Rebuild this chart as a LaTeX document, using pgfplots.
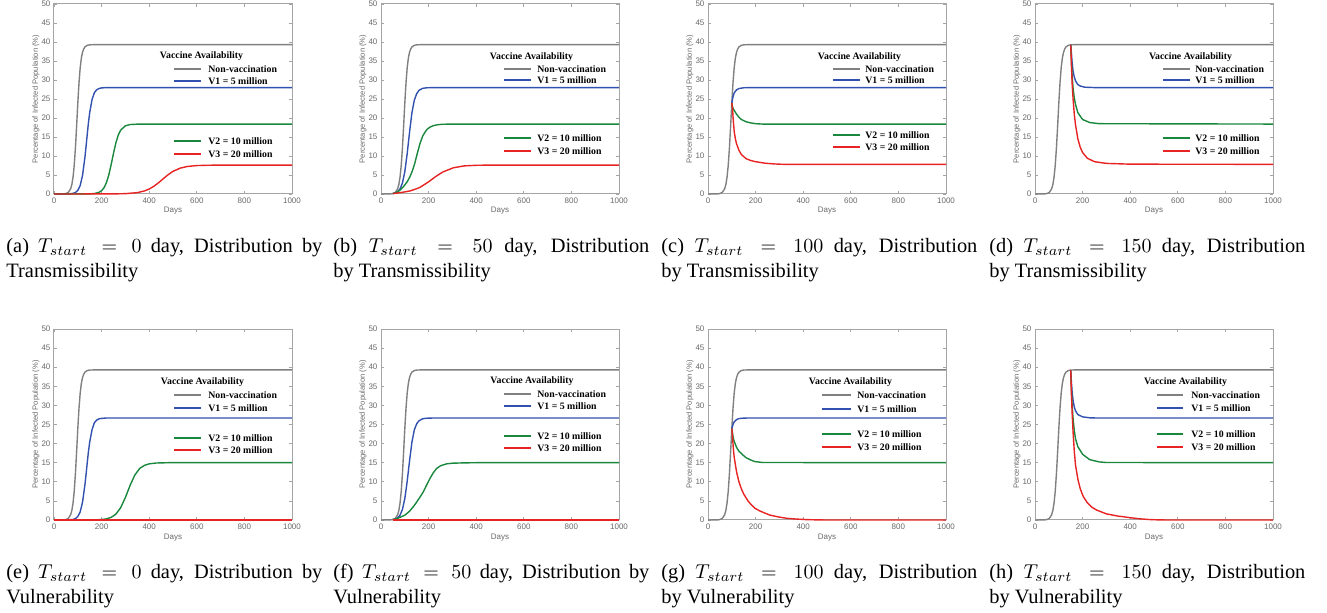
\documentclass[border=0pt]{standalone}
\usepackage{fontspec}
\setmainfont{Liberation Serif}
\setsansfont{Liberation Sans}
\usepackage{pgfplots}
\pgfplotsset{compat=1.18}
\usepackage{pgfplotstable}

\definecolor{cgray}{RGB}{128,128,128}
\definecolor{cblue}{RGB}{50,80,175}
\definecolor{cgreen}{RGB}{25,135,60}
\definecolor{cred}{RGB}{232,35,35}
\definecolor{axgray}{RGB}{165,165,165}
\definecolor{labgray}{RGB}{105,105,105}

\pgfplotstableread{
t y
0 0
40 0.034
50 0.117
60 0.41
70 1.38
75 2.50
80 4.44
85 7.53
90 12.1
95 17.8
100 23.9
105 29.2
110 33.2
115 35.8
120 37.3
125 38.2
130 38.7
140 39.13
150 39.25
170 39.3
1000 39.3
}\graytab

\pgfplotsset{
 panel/.style={
  scale only axis, width=119pt, height=95pt,
  xmin=0, xmax=1000, ymin=0, ymax=50,
  xtick={0,200,...,1000}, ytick={0,5,...,50},
  axis line style={draw=axgray, line width=0.5pt},
  tick style={draw=axgray, line width=0.35pt},
  major tick length=1.6pt,
  tick align=inside,
  /pgf/number format/assume math mode=true,
  /pgf/number format/1000 sep={},
  scaled ticks=false,
  ticklabel style={font=\fontsize{4}{4}\selectfont\sffamily, text=labgray, inner sep=1.6pt},
  xlabel={Days},
  ylabel={Percentage of Infected Population (\%)},
  xlabel style={font=\fontsize{4}{4}\selectfont\sffamily, text=labgray, at={(axis description cs:0.5,-0.0895)}, anchor=center},
  ylabel style={font=\fontsize{3.8}{4}\selectfont\sffamily, text=labgray, at={(axis description cs:-0.0756,0.5)}, anchor=center},
  clip=false,
  every axis plot/.append style={line width=0.7pt, no markers},
 },
 row2/.style={height=95.5pt},
}

\newcommand{\legfont}{\fontsize{4.9}{5}\selectfont\bfseries}
% #1 title cx, #2 title y, #3 line x1, #4 line x2, #5 text x, #6-#9 entry y
\newcommand{\vleg}[9]{%
 \node[font=\legfont,inner sep=0] at (#1,#2) {Vaccine Availability};
 \draw[cgray,line width=0.8pt] (#3,#6)--(#4,#6);
 \node[font=\legfont,anchor=west,inner sep=0] at (#5,#6) {Non-vaccination};
 \draw[cblue,line width=0.8pt] (#3,#7)--(#4,#7);
 \node[font=\legfont,anchor=west,inner sep=0] at (#5,#7) {V1 = 5 million};
 \draw[cgreen,line width=0.8pt] (#3,#8)--(#4,#8);
 \node[font=\legfont,anchor=west,inner sep=0] at (#5,#8) {V2 = 10 million};
 \draw[cred,line width=0.8pt] (#3,#9)--(#4,#9);
 \node[font=\legfont,anchor=west,inner sep=0] at (#5,#9) {V3 = 20 million};
}
\newcommand{\capfont}{\fontsize{10.2}{12}\selectfont}
% #1 x, #2 baseline, #3 line1, #4 line2
\newcommand{\capt}[4]{%
 \node[anchor=base west,inner sep=0,font=\capfont] at (#1,#2) {\makebox[158pt][s]{#3}};
 \node[anchor=base west,inner sep=0,font=\capfont] at (#1,#2+25) {#4};
}

\begin{document}
\begin{tikzpicture}
\useasboundingbox (0,0) rectangle (663.5pt,-306.5pt);

% (a)
\begin{axis}[panel, at={(27pt,-97pt)}, anchor=south west]
\addplot[cgray] table[x=t,y=y] {\graytab};
\addplot[cblue] coordinates {(0,0)(60,0.026)(80,0.16)(90,0.39)(100,0.94)(110,2.22)(120,4.92)(130,9.69)(135,12.7)(140,15.9)(145,18.9)(150,21.4)(160,24.9)(170,26.7)(180,27.45)(190,27.78)(200,27.91)(220,28.0)(1000,28.0)};
\addplot[cgreen] coordinates {(0,0)(150,0.033)(170,0.12)(190,0.46)(200,0.87)(210,1.63)(220,2.93)(230,4.95)(240,7.68)(250,10.7)(260,13.45)(270,15.5)(280,16.8)(300,17.94)(320,18.28)(350,18.38)(400,18.4)(1000,18.4)};
\addplot[cred] coordinates {(0,0)(250,0.022)(300,0.09)(350,0.36)(380,0.80)(400,1.31)(420,2.04)(440,3.0)(460,4.07)(480,5.1)(500,5.96)(530,6.8)(560,7.24)(600,7.48)(650,7.57)(700,7.6)(1000,7.6)};
\end{axis}

% (b)
\begin{axis}[panel, at={(190.5pt,-97pt)}, anchor=south west]
\addplot[cgray] table[x=t,y=y] {\graytab};
\addplot[cblue] coordinates {(50,0.117)(60,0.26)(70,0.59)(80,1.33)(90,2.88)(100,5.85)(110,10.6)(120,16.3)(130,21.4)(140,24.7)(150,26.4)(160,27.3)(175,27.8)(190,27.94)(220,28.0)(1000,28.0)};
\addplot[cgreen] coordinates {(50,0.117)(60,0.3)(70,0.6)(80,1.0)(94,1.9)(110,3.2)(122,4.6)(133,6.3)(143,8.3)(153,10.8)(164,13.3)(175,15.2)(185,16.3)(195,17.1)(206,17.6)(220,18.0)(240,18.25)(260,18.35)(300,18.4)(1000,18.4)};
\addplot[cred] coordinates {(50,0.117)(70,0.25)(100,0.55)(122,0.8)(150,1.4)(164,1.75)(200,3.2)(230,4.6)(260,5.8)(304,6.9)(350,7.4)(400,7.55)(450,7.6)(1000,7.6)};
\end{axis}

% (c)
\begin{axis}[panel, at={(354pt,-97pt)}, anchor=south west]
\addplot[cgray] table[x=t,y=y] {\graytab};
\addplot[cblue] coordinates {(100,23.9)(105,25.6)(110,26.6)(120,27.4)(130,27.75)(150,27.95)(180,28.0)(1000,28.0)};
\addplot[cgreen] coordinates {(100,23.9)(103,23.0)(106,22.4)(110,22.0)(120,21.0)(130,20.2)(140,19.6)(160,19.0)(180,18.7)(200,18.5)(230,18.4)(1000,18.4)};
\addplot[cred] coordinates {(100,23.9)(103,22.5)(106,19.5)(110,16.5)(115,14.5)(120,13.2)(130,11.5)(140,10.4)(160,9.3)(180,8.8)(200,8.5)(240,8.1)(280,7.9)(320,7.8)(1000,7.8)};
\end{axis}

% (d)
\begin{axis}[panel, at={(517.5pt,-97pt)}, anchor=south west]
\addplot[cgray] table[x=t,y=y] {\graytab};
\addplot[cblue] coordinates {(150,39.25)(153,37)(156,34.5)(160,32.3)(165,30.8)(170,29.8)(180,28.8)(190,28.4)(210,28.1)(250,28.0)(1000,28.0)};
\addplot[cgreen] coordinates {(150,39.25)(153,35)(156,31)(160,27.8)(165,25.3)(170,23.6)(180,21.4)(200,19.6)(230,18.8)(270,18.5)(1000,18.4)};
\addplot[cred] coordinates {(150,39.25)(153,34)(156,29)(160,25)(165,21)(170,18.3)(180,14.5)(190,12.3)(200,10.9)(220,9.4)(250,8.5)(300,8.05)(400,7.85)(1000,7.8)};
\end{axis}

% (e)
\begin{axis}[panel, row2, at={(27pt,-260pt)}, anchor=south west]
\addplot[cgray] table[x=t,y=y] {\graytab};
\addplot[cblue] coordinates {(0,0)(60,0.025)(80,0.15)(90,0.37)(100,0.90)(110,2.12)(120,4.69)(130,9.24)(135,12.1)(140,15.2)(145,18.0)(150,20.4)(160,23.7)(170,25.5)(180,26.2)(190,26.5)(200,26.6)(220,26.7)(1000,26.7)};
\addplot[cgreen] coordinates {(0,0)(180,0.05)(200,0.125)(220,0.29)(240,0.68)(260,1.53)(280,3.21)(300,5.89)(320,9.11)(340,11.8)(360,13.5)(380,14.3)(400,14.7)(430,14.92)(480,15.0)(1000,15.0)};
\addplot[cred] coordinates {(0,0)(1000,0)};
\end{axis}

% (f)
\begin{axis}[panel, row2, at={(190.5pt,-260pt)}, anchor=south west]
\addplot[cgray] table[x=t,y=y] {\graytab};
\addplot[cblue] coordinates {(50,0.117)(60,0.25)(70,0.56)(80,1.27)(90,2.75)(100,5.58)(110,10.1)(120,15.5)(130,20.4)(140,23.6)(150,25.2)(160,26.0)(175,26.5)(190,26.64)(220,26.7)(1000,26.7)};
\addplot[cgreen] coordinates {(50,0.117)(66,0.35)(80,0.7)(101,1.3)(120,2.3)(136,3.5)(150,4.7)(165,6.1)(178,7.4)(192,9.2)(206,10.9)(220,12.4)(234,13.5)(250,14.2)(276,14.7)(300,14.87)(346,14.95)(400,15)(1000,15)};
\addplot[cred] coordinates {(50,0)(1000,0)};
\end{axis}

% (g)
\begin{axis}[panel, row2, at={(354pt,-260pt)}, anchor=south west]
\addplot[cgray] table[x=t,y=y] {\graytab};
\addplot[cblue] coordinates {(100,23.9)(105,25.0)(110,25.7)(120,26.3)(130,26.55)(150,26.68)(180,26.7)(1000,26.7)};
\addplot[cgreen] coordinates {(100,23.9)(103,22.8)(106,21.5)(110,20.6)(120,19.0)(130,18.0)(147,17.0)(160,16.3)(180,15.7)(196,15.3)(230,15.05)(1000,15.0)};
\addplot[cred] coordinates {(100,23.9)(103,22.0)(106,19.0)(110,16.5)(115,14.5)(120,12.6)(130,10.0)(140,8.2)(150,6.8)(170,4.8)(196,3.1)(220,2.3)(259,1.3)(300,0.75)(330,0.45)(370,0.25)(414,0.1)(460,0.03)(500,0)(1000,0)};
\end{axis}

% (h)
\begin{axis}[panel, row2, at={(517.5pt,-260pt)}, anchor=south west]
\addplot[cgray] table[x=t,y=y] {\graytab};
\addplot[cblue] coordinates {(150,39.25)(153,36)(156,33.5)(160,31.3)(165,29.6)(170,28.6)(180,27.6)(200,27.0)(230,26.75)(260,26.7)(1000,26.7)};
\addplot[cgreen] coordinates {(150,39.25)(153,34)(156,30)(160,26.5)(165,23.5)(170,21.3)(180,19.2)(200,17.2)(230,15.8)(270,15.2)(300,15.05)(1000,15.0)};
\addplot[cred] coordinates {(150,39.25)(153,33)(156,28)(160,23)(165,18)(170,14.5)(180,10.7)(190,8.2)(203,6.1)(220,4.5)(240,3.3)(259,2.6)(300,1.6)(350,1.0)(372,0.85)(400,0.6)(442,0.3)(480,0.12)(520,0.03)(560,0)(1000,0)};
\end{axis}

\begin{scope}[x=0.5pt,y=-0.5pt]
\vleg{201.5}{56}{174}{201}{208}{69}{81}{141}{154}
\vleg{531.5}{57}{504}{531}{537}{69}{80}{138}{151}
\vleg{859.5}{57}{833}{860}{865}{69}{80}{135}{147}
\vleg{1190.5}{57}{1163}{1190}{1195}{69}{80}{138}{151}
\vleg{202.5}{382}{174}{201}{208}{395}{408}{438}{450}
\vleg{532}{381}{504}{531}{537}{394}{406}{436}{448}
\vleg{850.5}{382}{822}{851}{857}{395}{409}{434}{447}
\vleg{1185.5}{382}{1157}{1183}{1191}{395}{408}{434}{447}

\capt{6}{253}{(a) $T_{start}=0$ day, Distribution by}{Transmissibility}
\capt{333}{253}{(b) $T_{start}=50$ day, Distribution}{by Transmissibility}
\capt{661}{253}{(c) $T_{start}=100$ day, Distribution}{by Transmissibility}
\capt{989}{253}{(d) $T_{start}=150$ day, Distribution}{by Transmissibility}
\capt{6}{579}{(e) $T_{start}=0$ day, Distribution by}{Vulnerability}
\capt{333}{579}{(f) $T_{start}=50$ day, Distribution by}{Vulnerability}
\capt{661}{579}{(g) $T_{start}=100$ day, Distribution}{by Vulnerability}
\capt{989}{579}{(h) $T_{start}=150$ day, Distribution}{by Vulnerability}
\end{scope}
\end{tikzpicture}
\end{document}
